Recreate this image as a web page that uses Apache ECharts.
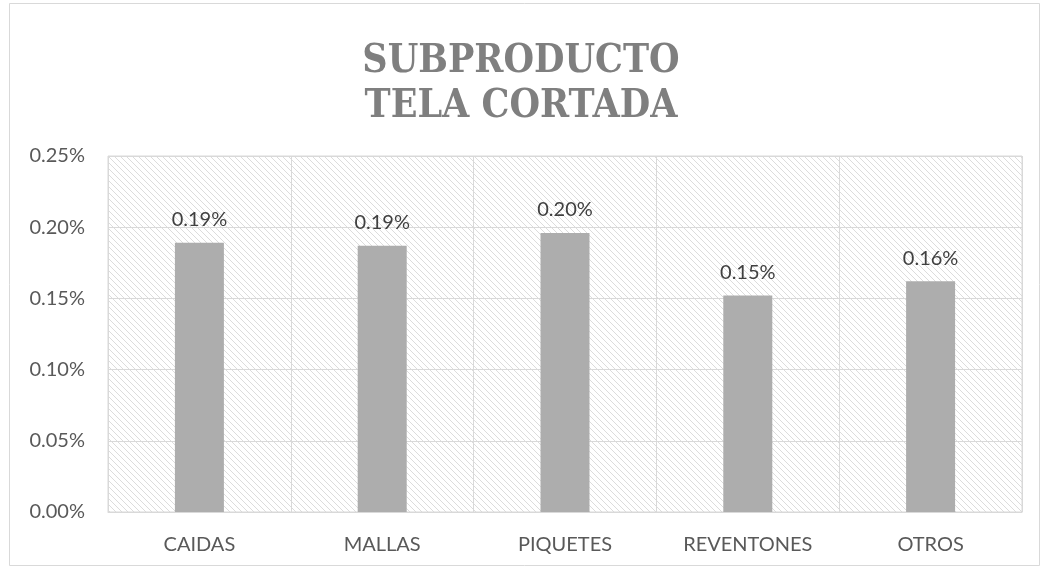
<!DOCTYPE html>
<html>
<head>
<meta charset="utf-8">
<script src="https://cdn.jsdelivr.net/npm/echarts@6/dist/echarts.min.js"></script>
<style>
  html, body { margin: 0; padding: 0; background: #fff; }
  #chart { width: 1042px; height: 569px; }
</style>
</head>
<body>
<div id="chart"></div>
<script>
// datos
const categorias = ['CAIDAS', 'MALLAS', 'PIQUETES', 'REVENTONES', 'OTROS']
const valores = [0.189, 0.187, 0.196, 0.152, 0.162] // en %
const titulo = 'SUBPRODUCTO\nTELA CORTADA'

// patron rayado del fondo
const hatch = () => {
  let c = document.createElement('canvas')
  c.width = 6
  c.height = 6
  let ctx = c.getContext('2d')
  ctx.fillStyle = '#fff'
  ctx.fillRect(0, 0, 6, 6)
  ctx.strokeStyle = '#dcdcdc'
  ctx.lineWidth = 1
  for (let k = -6; k <= 12; k += 6) {
    ctx.beginPath()
    ctx.moveTo(k, 0)
    ctx.lineTo(k + 6, 6)
    ctx.stroke()
  }
  return c
}

const echart = echarts.init(document.getElementById('chart'))
const option = {
  backgroundColor: '#fff',
  animation: false,
  title: {
    text: titulo,
    left: 'center',
    top: 34,
    textStyle: {
      fontFamily: 'DejaVu Serif Condensed',
      fontWeight: 'bold',
      fontSize: 39,
      lineHeight: 45,
      color: '#7f7f7f'
    }
  },
  graphic: [{
    type: 'rect',
    shape: { x: 9.5, y: 3.5, width: 1030, height: 562 },
    style: { fill: 'none', stroke: '#d9d9d9', lineWidth: 1 },
    z: -1
  }],
  grid: {
    left: 108,
    right: 20,
    top: 156,
    bottom: 57,
    show: true,
    backgroundColor: { image: hatch(), repeat: 'repeat' },
    borderColor: '#d9d9d9',
    borderWidth: 1
  },
  xAxis: {
    type: 'category',
    data: categorias,
    axisLine: { lineStyle: { color: '#d9d9d9' } },
    axisTick: { show: false },
    splitLine: { show: true, lineStyle: { color: '#d9d9d9', width: 1 } },
    axisLabel: {
      color: '#595959',
      fontSize: 20,
      fontFamily: 'Lato',
      margin: 23
    }
  },
  yAxis: {
    type: 'value',
    min: 0,
    max: 0.25,
    interval: 0.05,
    axisLine: { show: false },
    axisTick: { show: false },
    splitLine: { lineStyle: { color: '#d9d9d9', width: 1 } },
    axisLabel: {
      color: '#595959',
      fontSize: 20,
      fontFamily: 'Lato',
      margin: 23,
      formatter: (v) => v.toFixed(2) + '%'
    }
  },
  series: [{
    type: 'bar',
    data: valores,
    barWidth: 49,
    itemStyle: { color: '#adadad' },
    label: {
      show: true,
      position: 'top',
      distance: 13,
      color: '#404040',
      fontSize: 20,
      fontFamily: 'Lato',
      formatter: (p) => p.value.toFixed(2) + '%'
    }
  }]
}
echart.setOption(option)
</script>
</body>
</html>
